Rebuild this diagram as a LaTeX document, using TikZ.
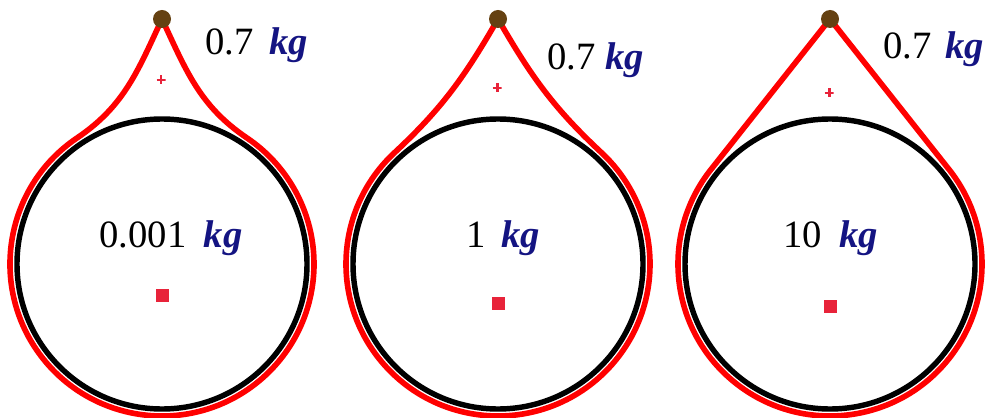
\documentclass[tikz,border=0pt]{standalone}
\usepackage{fontspec}
\setmainfont{Liberation Serif}
\usepackage{xcolor}
\usepackage{tikz}
\usetikzlibrary{calc, backgrounds}
\definecolor{ropered}{HTML}{FF0000}
\definecolor{cmred}{HTML}{E8233A}
\definecolor{pivbrown}{HTML}{654112}
\definecolor{kgblue}{HTML}{141482}
\newcommand{\kgunit}{\textcolor{kgblue}{\bfseries\itshape kg}}
\tikzset{
  disknode/.style={circle,draw=black,line width=3.1pt,minimum size=5.8cm,inner sep=0pt},
  pivnode/.style={circle,fill=pivbrown,minimum size=3.6mm,inner sep=0pt},
  cmsq/.style={rectangle,fill=cmred,minimum size=2.6mm,inner sep=0pt},
  cmplus/.style={rectangle,minimum size=1.8mm,inner sep=0pt,
    path picture={\draw[cmred,line width=1.7pt]
      (path picture bounding box.north) -- (path picture bounding box.south)
      (path picture bounding box.west) -- (path picture bounding box.east);}},
  masslbl/.style={anchor=base west,inner sep=0pt,font=\fontsize{22}{26}\selectfont},
  ropeline/.style={ropered,line width=3.2pt,line join=round},
}

\begin{document}
\begin{tikzpicture}
  \useasboundingbox (0,0) rectangle (19.78,8.34);
  \node[disknode] (dk1) at (3.24,3.06) {};
  \node[pivnode] (pv1) at (3.24,7.96) {};
  \node[cmplus] (cp1) at (3.22,6.74) {};
  \node[cmsq] (cs1) at (3.24,2.44) {};
  \node[masslbl] (ml1) at (4.10,7.24) {0.7\hspace{0.4em}\kgunit};
  \node[masslbl] (md1) at (1.98,3.40) {0.001\hspace{0.45em}\kgunit};
  \node[disknode] (dk2) at (9.96,3.06) {};
  \node[pivnode] (pv2) at (9.96,7.96) {};
  \node[cmplus] (cp2) at (9.94,6.58) {};
  \node[cmsq] (cs2) at (9.96,2.28) {};
  \node[masslbl] (ml2) at (10.94,6.94) {0.7\hspace{0.25em}\kgunit};
  \node[masslbl] (md2) at (9.32,3.40) {1\hspace{0.4em}\kgunit};
  \node[disknode] (dk3) at (16.60,3.06) {};
  \node[pivnode] (pv3) at (16.60,7.96) {};
  \node[cmplus] (cp3) at (16.58,6.48) {};
  \node[cmsq] (cs3) at (16.60,2.22) {};
  \node[masslbl] (ml3) at (17.66,7.16) {0.7\hspace{0.36em}\kgunit};
  \node[masslbl] (md3) at (15.66,3.40) {10\hspace{0.45em}\kgunit};
  % ropes hang from the pivots and wrap the disks
  \begin{scope}[on background layer]
    \draw[ropeline] (pv1.center) to[out=245,in=34] ([shift={(124:3.04)}]dk1.center)
      arc[start angle=124,end angle=416,radius=3.04] to[out=146,in=295] (pv1.center);
    \draw[ropeline] (pv2.center) to[out=240,in=43] ([shift={(133:3.04)}]dk2.center)
      arc[start angle=133,end angle=407,radius=3.04] to[out=137,in=300] (pv2.center);
    \draw[ropeline] (pv3.center) -- ([shift={(141.7:3.04)}]dk3.center)
      arc[start angle=141.7,end angle=398.3,radius=3.04] -- (pv3.center);
  \end{scope}
\end{tikzpicture}
\end{document}
